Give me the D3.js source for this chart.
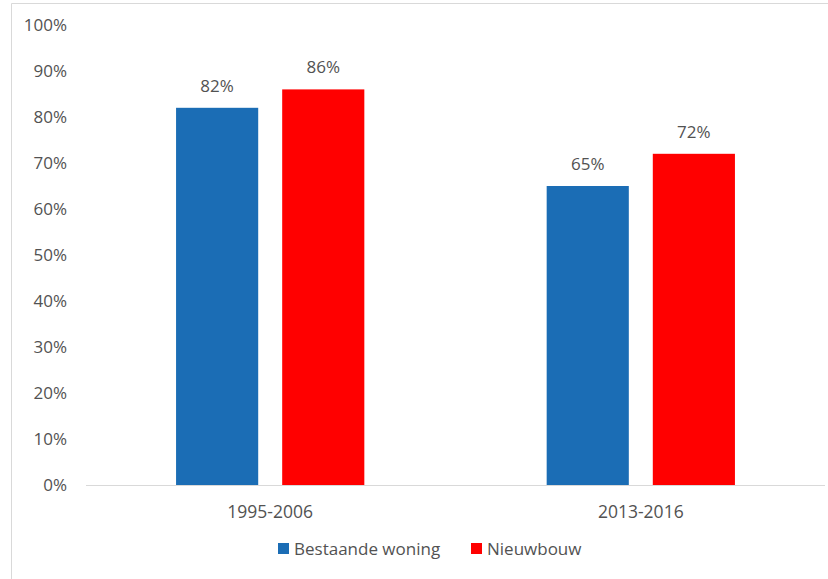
<!DOCTYPE html>
<html><head><meta charset="utf-8">
<script src="https://cdn.jsdelivr.net/npm/d3@7"></script>
<style>body{margin:0;background:#fff}svg{display:block}text{font-family:"Open Sans",sans-serif;fill:#525252}</style>
</head><body>
<script>
const categories = ["1995-2006", "2013-2016"];
const seriesNames = ["Bestaande woning", "Nieuwbouw"];
const bestaande = [82, 65];
const nieuwbouw = [86, 72];
const yTicks = [0, 10, 20, 30, 40, 50, 60, 70, 80, 90, 100];
const colors = ["#1b6db5", "#ff0000"];

const W = 828, H = 579;
const svg = d3.select("body").append("svg").attr("width", W).attr("height", H);

// frame
svg.append("line").attr("x1", 11.5).attr("x2", W).attr("y1", 3.5).attr("y2", 3.5).attr("stroke", "#d9d9d9");
svg.append("line").attr("x1", 11.5).attr("x2", 11.5).attr("y1", 3.5).attr("y2", H).attr("stroke", "#d9d9d9");

const y = d3.scaleLinear().domain([0, 100]).range([485, 25]);
const x0 = d3.scaleBand().domain(categories).range([86, 825]).paddingInner(0.492).paddingOuter(0.243);
const x1 = d3.scaleBand().domain(seriesNames).range([0, x0.bandwidth()]).paddingInner(0.226).paddingOuter(0);

const data = categories.map((c, i) => ({cat: c, vals: [
  {s: seriesNames[0], v: bestaande[i]}, {s: seriesNames[1], v: nieuwbouw[i]}]}));

// y axis labels
const yAxis = d3.axisLeft(y).tickValues(yTicks).tickFormat(d => d + "%").tickSize(0).tickPadding(0);
const ga = svg.append("g").attr("transform", "translate(67,0)").call(yAxis);
ga.select(".domain").remove();
ga.selectAll("text").attr("font-size", 17).attr("fill", "#525252").attr("font-family", "Open Sans, sans-serif");

// bars
const groups = svg.selectAll("g.grp").data(data).enter().append("g").attr("class", "grp")
  .attr("transform", d => `translate(${x0(d.cat)},0)`);
groups.selectAll("rect").data(d => d.vals).enter().append("rect")
  .attr("x", d => x1(d.s)).attr("width", x1.bandwidth())
  .attr("y", d => y(d.v)).attr("height", d => y(0) - y(d.v))
  .attr("fill", (d, i) => colors[i]);
groups.selectAll("text.val").data(d => d.vals).enter().append("text").attr("class", "val")
  .attr("x", d => x1(d.s) + x1.bandwidth() / 2).attr("y", d => y(d.v) - 16)
  .attr("text-anchor", "middle").attr("font-size", 17).text(d => d.v + "%");

// baseline
svg.append("line").attr("x1", 86).attr("x2", 825).attr("y1", 485.5).attr("y2", 485.5).attr("stroke", "#d9d9d9");

// x axis labels
const xAxis = d3.axisBottom(x0).tickSize(0).tickPadding(0);
const gx = svg.append("g").attr("transform", "translate(0,518)").call(xAxis);
gx.select(".domain").remove();
gx.selectAll("text").attr("font-size", 17.5).attr("fill", "#525252").attr("font-family", "Open Sans, sans-serif").attr("dy", 0);

// legend
const legX = [278, 471];
const leg = svg.selectAll("g.leg").data(seriesNames).enter().append("g").attr("class", "leg")
  .attr("transform", (d, i) => `translate(${legX[i]},543)`);
leg.append("rect").attr("width", 11).attr("height", 11).attr("fill", (d, i) => colors[i]);
leg.append("text").attr("x", 16).attr("y", 11.5).attr("font-size", 17).text(d => d);
</script>
</body></html>
